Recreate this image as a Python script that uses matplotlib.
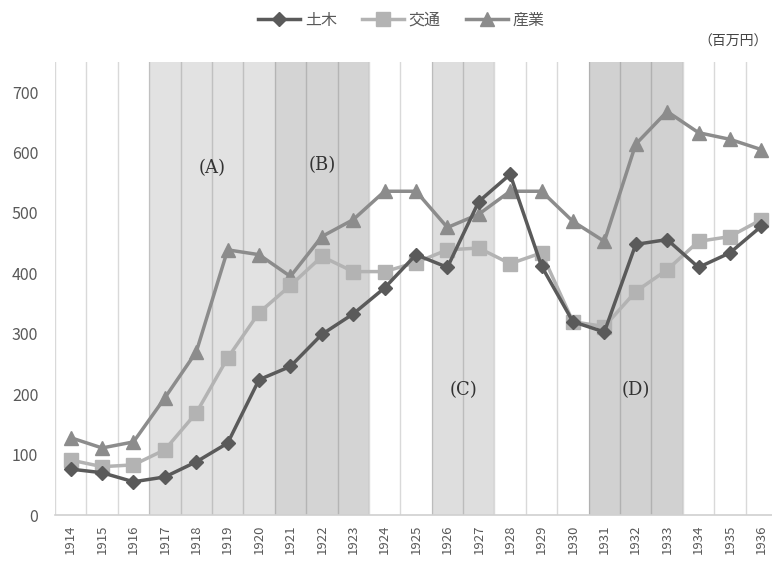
import numpy as np
import matplotlib
matplotlib.use("Agg")
import matplotlib.pyplot as plt

plt.rcParams['font.family'] = ['Noto Sans CJK JP', 'DejaVu Sans']

years = list(range(1914, 1937))

# 百万円
doboku = [76, 70, 55, 63, 88, 119, 224, 246, 299, 333, 376, 431, 410, 519, 564,
          412, 320, 303, 448, 456, 410, 434, 478]
kotsu = [91, 80, 83, 108, 169, 260, 335, 380, 428, 403, 403, 418, 439, 442, 416,
         434, 320, 312, 370, 406, 453, 461, 489]
sangyo = [128, 111, 121, 194, 270, 439, 431, 395, 461, 489, 536, 536, 476, 498, 536,
          536, 486, 453, 614, 668, 633, 622, 605]

# shaded periods: (label, first year, last year, darkness)
periods = [("(A)", 1917, 1920, 0.115),
           ("(B)", 1921, 1923, 0.17),
           ("(C)", 1926, 1927, 0.13),
           ("(D)", 1931, 1933, 0.18)]
label_pos = {"(A)": (1918.5, 575), "(B)": (1922.0, 580),
             "(C)": (1926.5, 207), "(D)": (1932.0, 207)}

W, H = 772, 572
fig = plt.figure(figsize=(W / 100, H / 100), dpi=100)
ax = fig.add_axes([55 / W, 57 / H, 722 / W, 453 / H])

x = np.arange(len(years))
text_col = "#595959"

# category separators
for b in np.arange(-0.5, len(years) + 0.5, 1.0):
    ax.axvline(b, color="#d9d9d9", lw=1.0, zorder=0)

for name, y0, y1, a in periods:
    ax.axvspan(y0 - years[0] - 0.5, y1 - years[0] + 0.5, color="black",
               alpha=a, lw=0, zorder=1)
    px, py = label_pos[name]
    ax.text(px - years[0], py, name, ha="center", va="center", fontsize=13,
            family="DejaVu Serif", color="#333333", zorder=2)

ax.plot(x, doboku, color="#5a5a5a", lw=2.5, marker="D", ms=7, label="土木", zorder=5)
ax.plot(x, kotsu, color="#b3b3b3", lw=2.5, marker="s", ms=9.5, label="交通", zorder=4)
ax.plot(x, sangyo, color="#8c8c8c", lw=2.5, marker="^", ms=10.5, label="産業", zorder=3)

ax.set_xlim(-0.5, len(years) - 0.5)
ax.set_ylim(0, 750)
ax.set_yticks(range(0, 701, 100))
ax.set_xticks(x)
ax.set_xticklabels([str(y) for y in years], rotation=90, fontsize=9.5, color=text_col)
ax.tick_params(axis="y", length=0, pad=12, labelsize=11.5, labelcolor=text_col)
ax.tick_params(axis="x", length=0, pad=7)
for s in ["top", "right", "left"]:
    ax.spines[s].set_visible(False)
ax.spines["bottom"].set_color("#d0d0d0")
ax.spines["bottom"].set_linewidth(1.2)

fig.legend(loc="upper center", bbox_to_anchor=(0.52, 1.005), ncol=3, frameon=False,
           fontsize=11.5, handlelength=2.6, columnspacing=1.6, handletextpad=0.3,
           labelcolor=text_col)
fig.text(0.995, 1 - 42 / H, "（百万円）", ha="right", va="center", fontsize=10,
         color="#444444")

fig.savefig("out.png", dpi=100)
